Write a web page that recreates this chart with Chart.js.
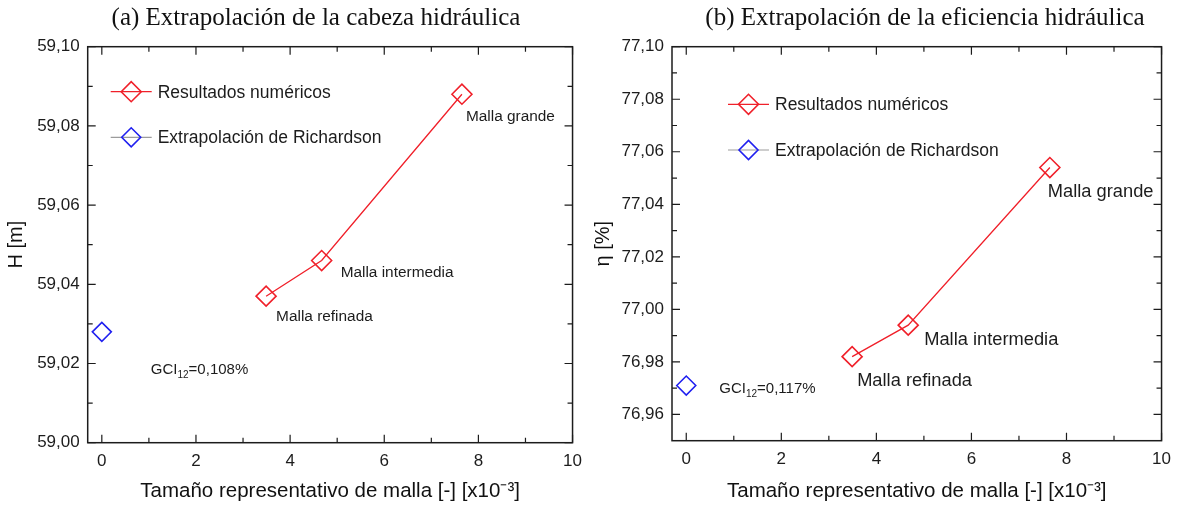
<!DOCTYPE html>
<html>
<head>
<meta charset="utf-8">
<script src="https://cdn.jsdelivr.net/npm/chart.js@4.4.1/dist/chart.umd.min.js"></script>
<style>
  html, body { margin: 0; padding: 0; background: #ffffff; }
  #wrap { position: relative; width: 1179px; height: 505px; overflow: hidden; background: #fff; }
  .panel { position: absolute; top: 0; height: 505px; }
  #panelA { left: 0; width: 590px; }
  #panelB { left: 590px; width: 589px; }
</style>
</head>
<body>
<div id="wrap">
  <div class="panel" id="panelA"><canvas id="chartA" width="590" height="505"></canvas></div>
  <div class="panel" id="panelB"><canvas id="chartB" width="589" height="505"></canvas></div>
</div>
<script>
// ---- data ----
const meshSize = [3.49, 4.67, 7.65];            // representative mesh size [x10^-3]
const meshNames = ['Malla refinada', 'Malla intermedia', 'Malla grande'];
const extrapolatedSize = [0];
const headValues = [59.037, 59.046, 59.088];    // H [m]
const headExtrapolated = [59.028];
const effValues = [76.982, 76.994, 77.054];     // eta [%]
const effExtrapolated = [76.971];
const seriesNames = ['Resultados numéricos', 'Extrapolación de Richardson'];
const gciHead = ['GCI', '12', '=0,108%'];
const gciEff = ['GCI', '12', '=0,117%'];

// ---- ticks ----
const xTicks = [0, 2, 4, 6, 8, 10];
const xMinorTicks = [1, 3, 5, 7, 9];
const headTicks = [59.00, 59.02, 59.04, 59.06, 59.08, 59.10];
const headMinorTicks = [59.01, 59.03, 59.05, 59.07, 59.09];
const effTicks = [76.96, 76.98, 77.00, 77.02, 77.04, 77.06, 77.08, 77.10];
const effMinorTicks = [76.97, 76.99, 77.01, 77.03, 77.05, 77.07, 77.09];

const SANS = '"Liberation Sans", Arial, sans-serif';
const SERIF = '"Liberation Serif", "Times New Roman", serif';
const RED = '#f0202a';
const BLUE = '#2020f0';
const INK = '#1c1c1c';

function diamond(ctx, x, y, r) {
  ctx.beginPath();
  ctx.moveTo(x - r, y);
  ctx.lineTo(x, y - r);
  ctx.lineTo(x + r, y);
  ctx.lineTo(x, y + r);
  ctx.closePath();
  ctx.stroke();
}

// frame, inward ticks, panel title, legend and point notes
const panelDecor = {
  id: 'panelDecor',
  afterDraw(chart, args, o) {
    const { ctx, chartArea: a } = chart;
    const x = chart.scales.x, y = chart.scales.y;
    ctx.save();

    // axis box
    ctx.strokeStyle = INK;
    ctx.lineWidth = 1.5;
    ctx.strokeRect(a.left, a.top, a.right - a.left, a.bottom - a.top);

    // inward tick marks on all four sides
    ctx.lineWidth = 1.2;
    const xMark = (vals, len) => vals.forEach(v => {
      const px = x.getPixelForValue(v);
      ctx.beginPath();
      ctx.moveTo(px, a.bottom); ctx.lineTo(px, a.bottom - len);
      ctx.moveTo(px, a.top); ctx.lineTo(px, a.top + len);
      ctx.stroke();
    });
    const yMark = (vals, len) => vals.forEach(v => {
      const py = y.getPixelForValue(v);
      ctx.beginPath();
      ctx.moveTo(a.left, py); ctx.lineTo(a.left + len, py);
      ctx.moveTo(a.right, py); ctx.lineTo(a.right - len, py);
      ctx.stroke();
    });
    xMark(o.xMajor, 8); xMark(o.xMinor, 5);
    yMark(o.yMajor, 8); yMark(o.yMinor, 5);

    // panel title
    ctx.fillStyle = '#111';
    ctx.font = o.titleFont;
    ctx.textAlign = 'center';
    ctx.textBaseline = 'middle';
    ctx.fillText(o.title, o.titleX, o.titleY);

    // legend: line with a hollow diamond, then the series name
    ctx.textAlign = 'left';
    ctx.font = o.legendFont;
    chart.data.datasets.forEach((ds, i) => {
      const ly = a.top + o.legendY[i];
      const lx = a.left + o.legendX;
      ctx.strokeStyle = ds.borderColor;
      ctx.lineWidth = 1.2;
      ctx.beginPath(); ctx.moveTo(lx, ly); ctx.lineTo(lx + 41, ly); ctx.stroke();
      ctx.strokeStyle = ds.pointBorderColor;
      ctx.lineWidth = 1.6;
      diamond(ctx, lx + 20.5, ly, ds.pointRadius);
      ctx.fillStyle = INK;
      ctx.fillText(ds.label, lx + 47, ly + 1);
    });

    // names next to each mesh point
    ctx.font = o.noteFont;
    ctx.fillStyle = INK;
    chart.getDatasetMeta(0).data.forEach((pt, i) => {
      const off = o.noteOffsets[i];
      ctx.fillText(meshNames[i], pt.x + off[0], pt.y + off[1]);
    });

    // GCI note beside the extrapolated point
    const rp = chart.getDatasetMeta(1).data[0];
    let gx = rp.x + o.gciOffset[0];
    const gy = rp.y + o.gciOffset[1] + 5.5;
    ctx.textBaseline = 'alphabetic';
    ctx.font = '15px ' + SANS;
    ctx.fillText(o.gci[0], gx, gy);
    gx += ctx.measureText(o.gci[0]).width;
    ctx.font = '10px ' + SANS;
    ctx.fillText(o.gci[1], gx, gy + 4);
    gx += ctx.measureText(o.gci[1]).width;
    ctx.font = '15px ' + SANS;
    ctx.fillText(o.gci[2], gx, gy);

    ctx.restore();
  }
};

function makePanel(canvasId, p) {
  return new Chart(document.getElementById(canvasId), {
    type: 'scatter',
    data: {
      datasets: [
        {
          label: seriesNames[0],
          data: meshSize.map((v, i) => ({ x: v, y: p.values[i] })),
          showLine: true,
          borderColor: RED,
          borderWidth: 1.3,
          pointStyle: 'rectRot',
          pointRadius: 10,
          pointBorderColor: RED,
          pointBorderWidth: 1.6,
          pointBackgroundColor: 'rgba(0,0,0,0)',
          tension: 0
        },
        {
          label: seriesNames[1],
          data: extrapolatedSize.map((v, i) => ({ x: v, y: p.extrapolated[i] })),
          showLine: false,
          borderColor: '#9c9c9c',
          pointStyle: 'rectRot',
          pointRadius: 9.5,
          pointBorderColor: BLUE,
          pointBorderWidth: 1.6,
          pointBackgroundColor: 'rgba(0,0,0,0)'
        }
      ]
    },
    options: {
      responsive: false,
      animation: false,
      layout: { padding: { left: 0, top: p.top, right: p.right, bottom: 0 } },
      plugins: {
        legend: { display: false },
        tooltip: { enabled: false },
        panelDecor: {
          title: p.title, titleX: p.titleX, titleY: 18.5,
          titleFont: '25px ' + SERIF,
          legendFont: '17.5px ' + SANS,
          legendX: p.legendX, legendY: p.legendY,
          noteFont: p.noteFont,
          noteOffsets: p.noteOffsets,
          gci: p.gci, gciOffset: p.gciOffset,
          xMajor: xTicks, xMinor: xMinorTicks,
          yMajor: p.yTicks, yMinor: p.yMinor
        }
      },
      scales: {
        x: {
          type: 'linear',
          min: -0.3,
          max: 10,
          afterBuildTicks: s => { s.ticks = xTicks.map(v => ({ value: v })); },
          afterFit: s => { s.height = p.xAxisHeight; },
          grid: { display: false, drawTicks: false },
          border: { display: false },
          ticks: {
            color: INK, padding: 8, maxRotation: 0, autoSkip: false,
            font: { family: SANS, size: 17 },
            callback: v => String(v)
          },
          title: {
            display: true,
            text: 'Tamaño representativo de malla [-] [x10⁻³]',
            color: '#111',
            font: { family: SANS, size: 20.5 },
            padding: { top: 0, bottom: 1 }
          }
        },
        y: {
          type: 'linear',
          min: p.yMin,
          max: p.yMax,
          afterBuildTicks: s => { s.ticks = p.yTicks.map(v => ({ value: v })); },
          afterFit: s => { s.width = p.yAxisWidth; },
          grid: { display: false, drawTicks: false },
          border: { display: false },
          ticks: {
            color: INK, padding: 8, autoSkip: false,
            font: { family: SANS, size: 17 },
            callback: v => Number(v).toFixed(2).replace('.', ',')
          },
          title: {
            display: true,
            text: p.yTitle,
            color: '#111',
            font: { family: SANS, size: 20 },
            padding: { top: p.yTitlePad, bottom: 0 }
          }
        }
      }
    },
    plugins: [panelDecor]
  });
}

makePanel('chartA', {
  title: '(a) Extrapolación de la cabeza hidráulica', titleX: 316,
  values: headValues, extrapolated: headExtrapolated,
  yMin: 59.00, yMax: 59.10, yTicks: headTicks, yMinor: headMinorTicks,
  yTitle: 'H [m]', yTitlePad: 4,
  top: 46.7, right: 12.7, yAxisWidth: 87.7, xAxisHeight: 62.3,
  legendX: 23, legendY: [45, 90.6],
  noteFont: '15.4px ' + SANS,
  noteOffsets: [[10, 21], [19, 12], [4, 23]],
  gci: gciHead, gciOffset: [49, 37]
});

makePanel('chartB', {
  title: '(b) Extrapolación de la eficiencia hidráulica', titleX: 335,
  values: effValues, extrapolated: effExtrapolated,
  yMin: 76.95, yMax: 77.10, yTicks: effTicks, yMinor: effMinorTicks,
  yTitle: 'η [%]', yTitlePad: 1,
  top: 46.7, right: 16.3, yAxisWidth: 82, xAxisHeight: 64.3,
  legendX: 56, legendY: [57.6, 103.3],
  noteFont: '18.3px ' + SANS,
  noteOffsets: [[5, 24], [16, 15], [-2, 24]],
  gci: gciEff, gciOffset: [33, 2]
});
</script>
</body>
</html>
